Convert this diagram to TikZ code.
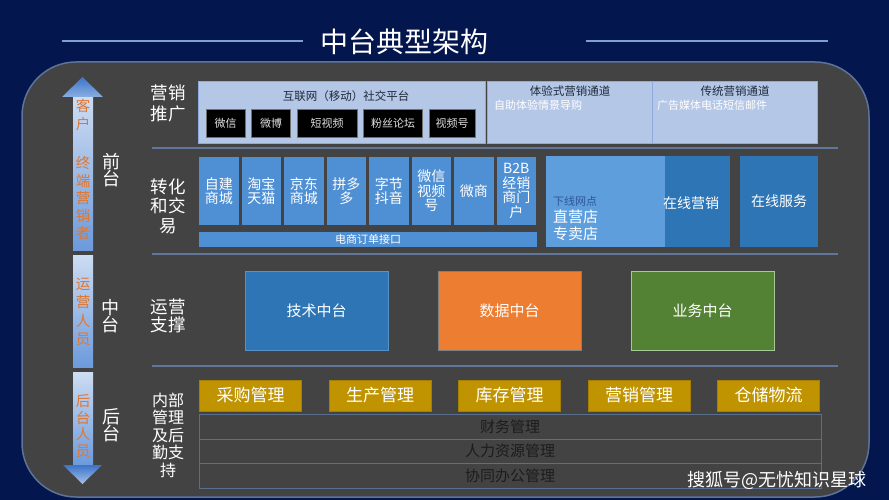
\documentclass[tikz,border=0pt]{standalone}
\usepackage{fontspec}
\setmainfont{Noto Sans CJK SC}
\usepackage{xcolor}
\usetikzlibrary{positioning}

\definecolor{bgdark}{HTML}{03164D}
\definecolor{bgmid}{HTML}{0D5EAE}
\definecolor{titleline}{HTML}{7F9FD1}
\definecolor{panelfill}{HTML}{434343}
\definecolor{paneledge}{HTML}{5D7397}
\definecolor{sepcol}{HTML}{61779A}
\definecolor{roleorange}{HTML}{E0762F}
\definecolor{arrowlight}{HTML}{CDDCF2}
\definecolor{arrowblue}{HTML}{3B74C9}
\definecolor{arrowmid}{HTML}{6C9ADB}
\definecolor{chanfill}{HTML}{B4C7E7}
\definecolor{chanedge}{HTML}{8EAADB}
\definecolor{chantext}{HTML}{1F2A3A}
\definecolor{mediaedge}{HTML}{707070}
\definecolor{shopblue}{HTML}{4F8FD3}
\definecolor{offblue}{HTML}{5E9EDD}
\definecolor{offtext}{HTML}{2F5597}
\definecolor{deepblue}{HTML}{2E75B6}
\definecolor{huborange}{HTML}{ED7D31}
\definecolor{hubgreen}{HTML}{548235}
\definecolor{greenedge}{HTML}{A6C995}
\definecolor{goldbox}{HTML}{C09400}
\definecolor{goldedge}{HTML}{A67F00}
\definecolor{rowedge}{HTML}{5A6F8C}
\definecolor{rowtext}{HTML}{1C1C1C}

\begin{document}
\begin{tikzpicture}[
    x=1pt, y=-1pt,
    every node/.style={inner sep=0pt, outer sep=0pt},
    lbl/.style={text=white, align=center, font=\fontsize{17}{19}\selectfont},
    role/.style={text=roleorange, align=center, font=\fontsize{14.5}{17.5}\selectfont},
    chan/.style={draw=chanedge, fill=chanfill, minimum height=62pt},
    chantitle/.style={text=chantext, font=\fontsize{11.5}{13}\selectfont},
    chansub/.style={anchor=west, text=white, font=\fontsize{11}{13}\selectfont},
    media/.style={draw=mediaedge, fill=black, text=white!88!black, minimum height=28pt, font=\fontsize{11}{13}\selectfont},
    shop/.style={fill=shopblue, text=white, align=center, minimum width=39.5pt, minimum height=68pt, font=\fontsize{14}{14.5}\selectfont},
    online/.style={fill=deepblue, text=white, minimum height=91pt, font=\fontsize{14}{16}\selectfont},
    hub/.style={minimum width=143pt, minimum height=79pt, text=white, font=\fontsize{15}{17}\selectfont},
    mgmt/.style={fill=goldbox, draw=goldedge, text=white, minimum width=102pt, minimum height=31pt, font=\fontsize{17}{19}\selectfont},
    tabrow/.style={draw=rowedge, minimum width=622pt, minimum height=24.5pt, text=rowtext, font=\fontsize{15}{17}\selectfont},
    rowline/.style={draw=sepcol, line width=1.2pt}
]
\useasboundingbox (0,0) rectangle (889,500);

% Background and panel
\fill[left color=bgdark, middle color=bgmid, right color=bgdark] (0,0) rectangle (889,500);
\draw[fill=panelfill, draw=paneledge, line width=1.5pt, rounded corners=54pt] (22,62) rectangle (869,497);

% Title
\node[text=white, font=\fontsize{28}{30}\selectfont] (title) at (404,42) {中台典型架构};
\coordinate (tl) at (62,41);
\coordinate (tr) at (828,41);
\draw[titleline, line width=1.5pt] (tl) -- (303,41);
\draw[titleline, line width=1.5pt] (586,41) -- (tr);

% Row separators
\draw[rowline] (152,148) -- (838,148);
\draw[rowline] (152,254) -- (838,254);
\draw[rowline] (152,366) -- (838,366);

% Role arrows
\shade[top color=arrowlight, bottom color=arrowmid] (73,97) rectangle (93,250);
\shade[top color=arrowblue, bottom color=arrowmid!70!arrowlight] (62,97) -- (82.5,77) -- (103,97) -- cycle;
\shade[top color=arrowlight, bottom color=arrowmid] (73,255) rectangle (93,367);
\shade[top color=arrowlight, bottom color=arrowmid] (73,372) rectangle (93,465);
\shade[top color=arrowblue, bottom color=arrowmid!40!arrowlight] (63,465) -- (102,465) -- (82.5,484) -- cycle;

\node[role] (customer) at (83,115) {客\\户};
\node[role] (seller) at (83,198) {终\\端\\营\\销\\者};
\node[role, font=\fontsize{14.5}{18.5}\selectfont] (operator) at (83,312) {运\\营\\人\\员};
\node[role, font=\fontsize{14.5}{16.5}\selectfont] (backstaff) at (83,426) {后\\台\\人\\员};

% Layers
\node[lbl, font=\fontsize{18}{17}\selectfont] (front) at (111,170) {前\\台};
\node[lbl, font=\fontsize{18}{17}\selectfont] (middle) at (110,316) {中\\台};
\node[lbl, font=\fontsize{18}{17}\selectfont] (back) at (111,425) {后\\台};

\node[lbl, font=\fontsize{17.5}{21}\selectfont] (mkt) at (168,103) {营销\\推广};
\node[lbl, font=\fontsize{17.5}{19.5}\selectfont] (trade) at (168,206) {转化\\和交\\易};
\node[lbl, font=\fontsize{17.5}{18}\selectfont] (ops) at (168,316) {运营\\支撑};
\node[lbl, font=\fontsize{16}{17.5}\selectfont] (inner) at (168,435) {内部\\管理\\及后\\勤支\\持};

% Marketing channels
\node[chan, minimum width=287pt] (social) at (341.5,112) {};
\node[chantitle] (socialtxt) at (346,96) {互联网（移动）社交平台};
\node[media, minimum width=39pt] (wx) at (225.5,123) {微信};
\node[media, minimum width=39pt, right=6.5pt of wx] (wb) {微博};
\node[media, minimum width=60pt, right=6.5pt of wb] (dsp) {短视频};
\node[media, minimum width=59pt, right=6.5pt of dsp] (fans) {粉丝论坛};
\node[media, minimum width=46pt, right=6.5pt of fans] (sph) {视频号};

\node[chan, minimum width=165pt] (exp) at (569.5,112) {};
\node[chantitle] (exptxt) at (570,91) {体验式营销通道};
\node[chansub] (expsub) at (494,105) {自助体验情景导购};
\node[chan, minimum width=165pt, right=0pt of exp] (trad) {};
\node[chantitle] (tradtxt) at (735,91) {传统营销通道};
\node[chansub] (tradsub) at (657,105) {广告媒体电话短信邮件};

% Conversion and trade
\node[shop] (zjsc) at (218.75,191) {自建\\商城};
\node[shop, right=3pt of zjsc] (tbtm) {淘宝\\天猫};
\node[shop, right=3pt of tbtm] (jdsc) {京东\\商城};
\node[shop, right=3pt of jdsc] (pdd) {拼多\\多};
\node[shop, right=3pt of pdd] (zjdy) {字节\\抖音};
\node[shop, right=3pt of zjdy] (wxsph) {微信\\视频\\号};
\node[shop, right=3pt of wxsph] (ws) {微商};
\node[shop, right=3pt of ws] (btob) {B2B\\经销\\商门\\户};
\node[fill=shopblue, text=white, minimum width=338pt, minimum height=15pt, font=\fontsize{11}{13}\selectfont] (orderapi) at (368,239.5) {电商订单接口};

\node[online, minimum width=184pt] (onmkt) at (638,201.5) {};
\node[fill=offblue, minimum width=119pt, minimum height=91pt] (offline) at (605.5,201.5) {};
\node[anchor=west, text=white, align=left, font=\fontsize{15}{17}\selectfont] (offtxt) at (553,218)
    {{\fontsize{11}{13}\selectfont\color{offtext}下线网点}\\直营店\\专卖店};
\node[text=white, font=\fontsize{14}{16}\selectfont] (onmkttxt) at (691,203) {在线营销};
\node[online, minimum width=78pt] (onsvc) at (779,201.5) {在线服务};

% Middle platforms
\node[hub, fill=deepblue, draw=deepblue!80!white] (tech) at (316.5,311) {技术中台};
\node[hub, fill=huborange, draw=gray, right=50pt of tech] (data) {数据中台};
\node[hub, fill=hubgreen, draw=greenedge, right=50pt of data] (biz) {业务中台};

% Back office
\node[mgmt] (buy) at (250.5,395.5) {采购管理};
\node[mgmt, right=27.5pt of buy] (prod) {生产管理};
\node[mgmt, right=27.5pt of prod] (stock) {库存管理};
\node[mgmt, right=27.5pt of stock] (sales) {营销管理};
\node[mgmt, right=27.5pt of sales] (wh) {仓储物流};

\node[tabrow] (fin) at (510,426.5) {财务管理};
\node[tabrow, below=0pt of fin] (hr) {人力资源管理};
\node[tabrow, below=0pt of hr] (oa) {协同办公管理};

% Watermark
\node[text=white, font=\fontsize{18}{20}\selectfont] (mark) at (777,480) {搜狐号@无忧知识星球};

\end{tikzpicture}
\end{document}
